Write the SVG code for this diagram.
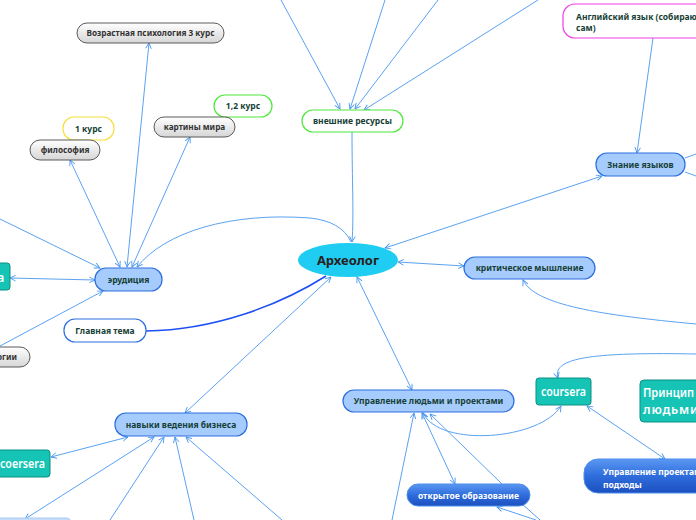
<svg xmlns="http://www.w3.org/2000/svg" width="696" height="520" viewBox="0 0 696 520">
<defs>
  <linearGradient id="gray" x1="0" y1="0" x2="0" y2="1">
    <stop offset="0" stop-color="#ffffff"/>
    <stop offset="1" stop-color="#d6d6d6"/>
  </linearGradient>
  <linearGradient id="dblue" x1="0" y1="0" x2="0" y2="1">
    <stop offset="0" stop-color="#5a97f2"/>
    <stop offset="0.5" stop-color="#2f6ddc"/>
    <stop offset="1" stop-color="#1c4fbf"/>
  </linearGradient>
  <marker id="ah" viewBox="0 0 10 10" refX="9" refY="5" markerWidth="7" markerHeight="7" orient="auto-start-reverse" markerUnits="userSpaceOnUse">
    <path d="M1,1 L9,5 L1,9" fill="none" stroke="#4a97ee" stroke-width="1.3"/>
  </marker>
  <style>
    text{font-family:"Noto Sans","Open Sans","DejaVu Sans",sans-serif;font-weight:bold}
    .c{fill:none;stroke:#5aa2f2;stroke-width:1}
    .gr rect{fill:url(#gray);stroke:#5a5a5a;stroke-width:1}
    .gr text{fill:#333;font-size:8.2px;text-anchor:middle}
    .lb rect{fill:#a6cbfd;stroke:#2d6ee0;stroke-width:1.2}
    .lb text{fill:#163f35;font-size:8.5px;text-anchor:middle}
    .wb rect{fill:#fff;stroke-width:1.2}
    .wb text{fill:#163f35;font-size:8.5px}
    .mid{text-anchor:middle}
    .tl rect{fill:#16c4b6;stroke:#0e8f84;stroke-width:1}
    .tl text{fill:#fff;font-size:12.5px;font-weight:600}
    .db rect{fill:url(#dblue);stroke:#4d8fe8;stroke-width:1}
    .db text{fill:#fff;font-size:8.5px}
  </style>
</defs>

<g id="connectors">
  <path class="c" d="M281,0 L340,109" marker-end="url(#ah)"/>
  <path class="c" d="M385,0 L350,109" marker-end="url(#ah)"/>
  <path class="c" d="M438,0 L355,109" marker-end="url(#ah)"/>
  <path class="c" d="M538,0 L364,110" marker-end="url(#ah)"/>
  <path class="c" d="M352,132 C352,180 354,215 352,242" marker-end="url(#ah)"/>
  <path class="c" d="M120,267 L70,160" marker-start="url(#ah)" marker-end="url(#ah)"/>
  <path class="c" d="M127,267 L149,43" marker-start="url(#ah)" marker-end="url(#ah)"/>
  <path class="c" d="M132,267 L190,137" marker-start="url(#ah)" marker-end="url(#ah)"/>
  <path class="c" d="M137,267 C165,232 230,212 310,218 C330,220 345,228 351,242" marker-start="url(#ah)"/>
  <path class="c" d="M0,219 L100,268" marker-end="url(#ah)"/>
  <path class="c" d="M10,278 L95,280" marker-start="url(#ah)" marker-end="url(#ah)"/>
  <path class="c" d="M0,346 L103,291" marker-end="url(#ah)"/>
  <path d="M146,331 C215,330 280,305 326,276" fill="none" stroke="#1d4ff5" stroke-width="1.5"/>
  <path class="c" d="M185,413 L331,277" marker-start="url(#ah)" marker-end="url(#ah)"/>
  <path class="c" d="M51,457 L128,437" marker-start="url(#ah)" marker-end="url(#ah)"/>
  <path class="c" d="M25,519 L154,437" marker-start="url(#ah)" marker-end="url(#ah)"/>
  <path class="c" d="M110,520 L164,437" marker-end="url(#ah)"/>
  <path class="c" d="M194,520 L175,437" marker-end="url(#ah)"/>
  <path class="c" d="M282,520 L186,437" marker-end="url(#ah)"/>
  <path class="c" d="M653,38 L637,153" marker-end="url(#ah)"/>
  <path class="c" d="M685,158 L696,154"/>
  <path class="c" d="M685,172 L696,176"/>
  <path class="c" d="M602,176 L385,248" marker-start="url(#ah)" marker-end="url(#ah)"/>
  <path class="c" d="M398,262 L464,266" marker-start="url(#ah)" marker-end="url(#ah)"/>
  <path class="c" d="M523,280 C535,305 600,315 696,324" marker-start="url(#ah)"/>
  <path class="c" d="M357,277 L412,390" marker-start="url(#ah)" marker-end="url(#ah)"/>
  <path class="c" d="M558,378 C552,358 590,352 696,354" marker-start="url(#ah)"/>
  <path class="c" d="M423,413 C440,448 540,440 561,406" marker-start="url(#ah)" marker-end="url(#ah)"/>
  <path class="c" d="M587,406 L665,459" marker-start="url(#ah)" marker-end="url(#ah)"/>
  <path class="c" d="M422,413 L455,484" marker-start="url(#ah)" marker-end="url(#ah)"/>
  <path class="c" d="M502,484 L430,414" marker-end="url(#ah)"/>
  <path class="c" d="M392,520 L414,413" marker-end="url(#ah)"/>
  <path class="c" d="M536,520 L497,507" marker-end="url(#ah)"/>
  <path class="c" d="M521,503 L540,520"/>
</g>

<g id="archeolog">
  <ellipse cx="348" cy="260" rx="50" ry="17" fill="#1fcdf2"/>
  <text x="348" y="265" font-size="13" fill="#2a2020" text-anchor="middle">Археолог</text>
</g>

<g id="vneshnie" class="wb">
  <rect x="302" y="110" width="101" height="22" rx="11" stroke="#4de83a"/>
  <text class="mid" x="352.5" y="124">внешние ресурсы</text>
</g>

<g id="vozrast" class="gr">
  <rect x="77" y="23" width="147" height="20" rx="10"/>
  <text x="150.5" y="36">Возрастная психология 3 курс</text>
</g>

<g id="kurs12" class="wb">
  <rect x="214" y="95" width="58" height="22" rx="11" stroke="#4de83a"/>
  <text class="mid" x="243" y="109">1,2 курс</text>
</g>

<g id="kartiny" class="gr">
  <rect x="154" y="117" width="81" height="20" rx="10"/>
  <text x="194.5" y="130">картины мира</text>
</g>

<g id="kurs1" class="wb">
  <rect x="63" y="117" width="51" height="23" rx="11" stroke="#f5e040"/>
  <text class="mid" x="88.5" y="132">1 курс</text>
</g>

<g id="filosofia" class="gr">
  <rect x="30" y="140" width="70" height="20" rx="10"/>
  <text x="65" y="153">философия</text>
</g>

<g id="erudicia" class="lb">
  <rect x="95" y="268" width="67" height="23" rx="11"/>
  <text x="128.5" y="283">эрудиция</text>
</g>

<g id="left-teal" class="tl">
  <rect x="-20" y="263" width="30" height="27" rx="3"/>
  <text x="-3" y="282">a</text>
</g>

<g id="logii" class="gr">
  <rect x="-40" y="347" width="70" height="20" rx="10"/>
  <text x="7" y="360">огии</text>
</g>

<g id="glavnaya" class="wb">
  <rect x="64" y="319" width="82" height="23" rx="11" stroke="#2d6ee0"/>
  <text class="mid" x="105" y="334">Главная тема</text>
</g>

<g id="navyki" class="lb">
  <rect x="115" y="413" width="132" height="23" rx="11"/>
  <text x="181" y="428">навыки ведения бизнеса</text>
</g>

<g id="coersera" class="tl">
  <rect x="-30" y="450" width="80" height="27" rx="3"/>
  <text x="0" y="468" textLength="45" lengthAdjust="spacingAndGlyphs">coersera</text>
</g>

<g id="bottom-left">
  <rect x="-20" y="518" width="92" height="20" rx="6" fill="#c6dcfb" stroke="#a9c8f5"/>
</g>

<g id="angliyskiy" class="wb">
  <rect x="563" y="4" width="150" height="34" rx="12" stroke="#f03ce6"/>
  <text x="576" y="20">Английский язык (собираюсь</text>
  <text x="576" y="31">сам)</text>
</g>

<g id="znanie" class="lb">
  <rect x="596" y="153" width="89" height="23" rx="11"/>
  <text x="640.5" y="168">Знание языков</text>
</g>

<g id="kritich" class="lb">
  <rect x="464" y="257" width="131" height="22" rx="11"/>
  <text x="529.5" y="271">критическое мышление</text>
</g>

<g id="upravlenie" class="lb">
  <rect x="343" y="390" width="171" height="22" rx="11"/>
  <text x="428.5" y="404">Управление людьми и проектами</text>
</g>

<g id="coursera" class="tl">
  <rect x="536" y="378" width="55" height="27" rx="3"/>
  <text x="541" y="396" textLength="45" lengthAdjust="spacingAndGlyphs">coursera</text>
</g>

<g id="principy" class="tl">
  <rect x="640" y="380" width="80" height="42" rx="4"/>
  <text x="643" y="397" font-size="12" textLength="51" lengthAdjust="spacingAndGlyphs">Принцип</text>
  <text x="643" y="414" font-size="12" letter-spacing="0.8">людьми</text>
</g>

<g id="upr-proekt" class="db">
  <rect x="584" y="459" width="140" height="34" rx="14"/>
  <text x="603" y="475">Управление проектам</text>
  <text x="603" y="488">подходы</text>
</g>

<g id="otkrytoe" class="db">
  <rect x="407" y="484" width="123" height="22" rx="11"/>
  <text x="468.5" y="499" text-anchor="middle">открытое образование</text>
</g>
</svg>
